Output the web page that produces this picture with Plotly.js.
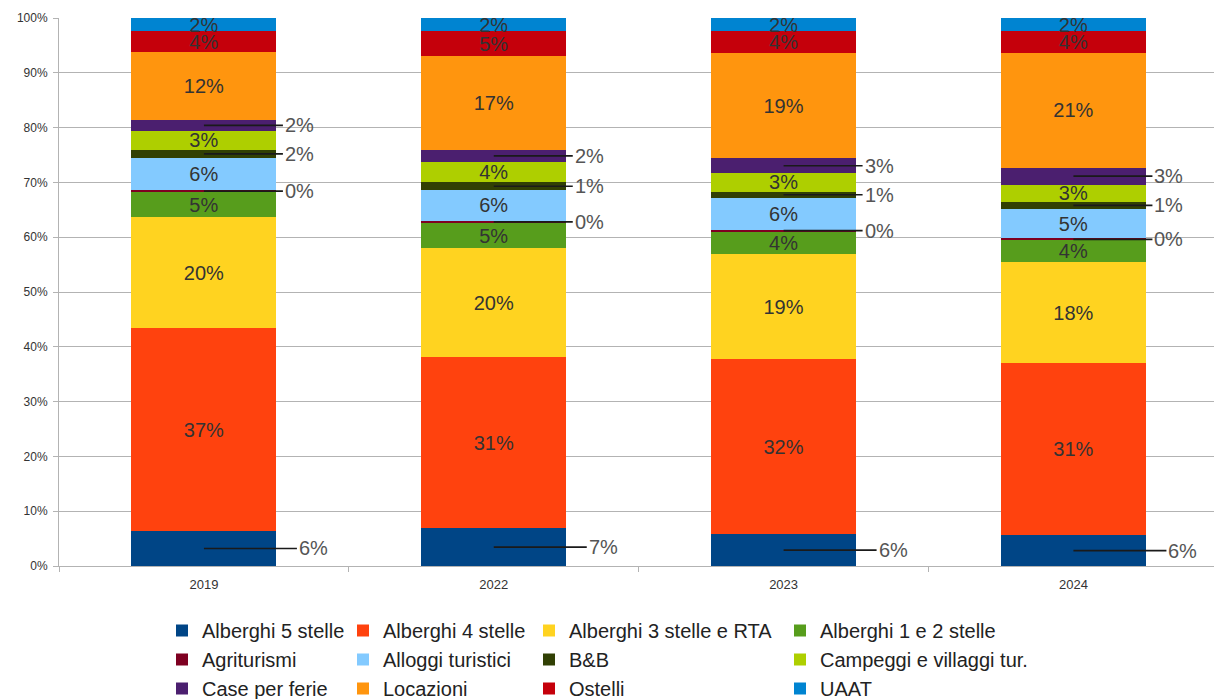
<!DOCTYPE html>
<html>
<head>
<meta charset="utf-8">
<script src="https://cdn.plot.ly/plotly-3.0.1.min.js"></script>
<style>html,body{margin:0;padding:0;background:#fff;overflow:hidden;}#chart{width:1214px;height:720px;}</style>
</head>
<body>
<div id="chart"></div>
<script>
const categories = ['2019', '2022', '2023', '2024'];
const alberghi5 = [6.4, 6.9, 5.8, 5.6];
const alberghi4 = [37.0, 31.2, 32.0, 31.4];
const alberghi3 = [20.2, 19.9, 19.1, 18.4];
const alberghi12 = [4.6, 4.6, 4.1, 4.0];
const agriturismi = [0.4, 0.4, 0.4, 0.4];
const alloggi = [5.8, 5.6, 5.8, 5.4];
const bnb = [1.6, 1.4, 1.1, 1.2];
const campeggi = [3.4, 3.7, 3.4, 3.2];
const casePerFerie = [2.0, 2.3, 2.7, 3.1];
const locazioni = [12.4, 17.0, 19.2, 20.9];
const ostelli = [3.8, 4.6, 4.0, 4.0];
const uaat = [2.4, 2.4, 2.4, 2.4];

const seriesNames = ['Alberghi 5 stelle', 'Alberghi 4 stelle', 'Alberghi 3 stelle e RTA', 'Alberghi 1 e 2 stelle',
  'Agriturismi', 'Alloggi turistici', 'B&B', 'Campeggi e villaggi tur.',
  'Case per ferie', 'Locazioni', 'Ostelli', 'UAAT'];
const seriesValues = [alberghi5, alberghi4, alberghi3, alberghi12, agriturismi, alloggi, bnb, campeggi,
  casePerFerie, locazioni, ostelli, uaat];
const seriesColors = ['#004586', '#ff420e', '#ffd320', '#579d1c', '#7e0021', '#83caff', '#314004', '#aecf00',
  '#4b1f6f', '#ff950e', '#c5000b', '#0084d1'];
const leaderSeries = ['Alberghi 5 stelle', 'Agriturismi', 'B&B', 'Case per ferie'];

const FONT = 'Liberation Sans, Arial, sans-serif';
const legendIds = ['legend', 'legend2', 'legend3', 'legend4'];
const traces = [];
const annotations = [];
const base = categories.map(() => 0);

seriesNames.forEach((name, i) => {
  const vals = seriesValues[i];
  const isLeader = leaderSeries.includes(name);
  traces.push({
    type: 'bar',
    name: name,
    x: categories,
    y: vals,
    marker: {color: seriesColors[i], line: {width: 0}},
    texttemplate: '%{y:.0f}%',
    textposition: isLeader ? 'none' : 'inside',
    insidetextanchor: 'middle',
    textangle: 0,
    constraintext: 'none',
    cliponaxis: false,
    textfont: {family: FONT, size: 20, color: '#333333'},
    legend: legendIds[i % 4],
    hoverinfo: 'name+y'
  });
  categories.forEach((c, k) => {
    if (isLeader) {
      annotations.push({
        x: k, y: base[k] + vals[k] / 2, xref: 'x', yref: 'y',
        text: Math.round(vals[k]) + '%',
        showarrow: true, arrowhead: 0, arrowwidth: 1.6, arrowcolor: '#1a1a1a',
        ax: name === 'Alberghi 5 stelle' ? 93 : 79, ay: 0, axref: 'pixel', ayref: 'pixel', standoff: 0,
        xanchor: 'left', yanchor: 'middle',
        font: {family: FONT, size: 20, color: '#555555'}
      });
    }
    base[k] += vals[k];
  });
});

const plotLeft = 59, plotWidth = 1155, plotBottom = 566, plotHeight = 548;
const legendFont = {family: FONT, size: 20, color: '#222222'};
const legendXpx = [162, 343, 529, 780];
const legendTopPx = 611;
const legendBase = {orientation: 'v', traceorder: 'normal', xref: 'paper', yref: 'paper',
  xanchor: 'left', yanchor: 'top', y: (plotBottom - legendTopPx) / plotHeight, font: legendFont,
  bgcolor: 'rgba(0,0,0,0)', borderwidth: 0, itemclick: false, itemdoubleclick: false};

const layout = {
  width: 1214, height: 720,
  margin: {l: 59, r: 0, t: 18, b: 154},
  paper_bgcolor: '#ffffff', plot_bgcolor: '#ffffff',
  font: {family: FONT, color: '#333333'},
  barmode: 'stack',
  bargap: 0.5,
  showlegend: true,
  xaxis: {
    type: 'category', range: [-0.5, 3.485],
    showline: true, linecolor: '#b3b3b3', linewidth: 1,
    ticks: 'outside', tickson: 'boundaries', ticklen: 5, tickcolor: '#b3b3b3',
    tickfont: {size: 13, color: '#333333'}, tickangle: 0, ticklabelstandoff: 6,
    showgrid: false, fixedrange: true
  },
  yaxis: {
    range: [0, 100.001], tick0: 0, dtick: 10, ticksuffix: '%',
    showline: true, linecolor: '#b3b3b3', linewidth: 1,
    ticks: 'outside', ticklen: 5, tickcolor: '#b3b3b3',
    tickfont: {size: 12, color: '#333333'}, ticklabelstandoff: 3,
    showgrid: true, gridcolor: '#b3b3b3', gridwidth: 1,
    zeroline: false, fixedrange: true
  },
  annotations: annotations
};
legendIds.forEach((id, j) => {
  layout[id] = Object.assign({}, legendBase, {x: (legendXpx[j] - plotLeft) / plotWidth});
});

Plotly.newPlot('chart', traces, layout, {displayModeBar: false});
</script>
</body>
</html>
